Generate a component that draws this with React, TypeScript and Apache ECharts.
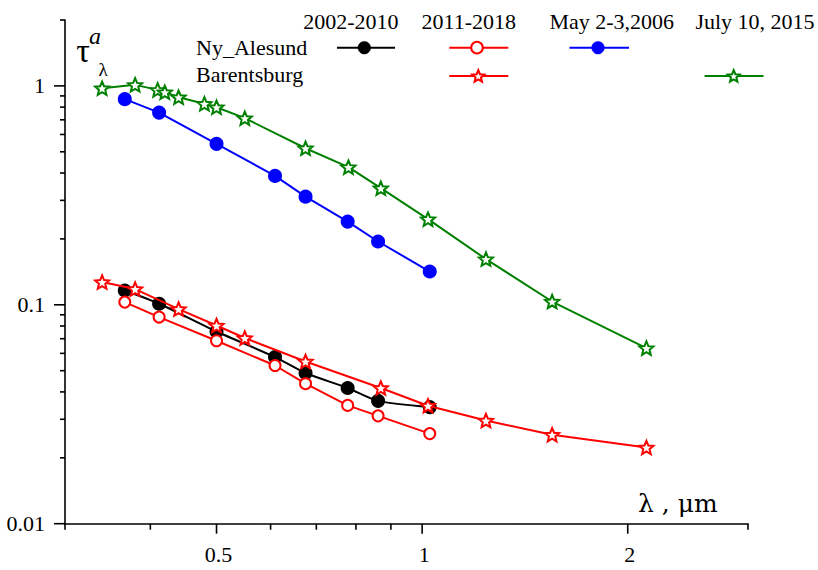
import React, { useEffect, useRef } from "react";
import * as echarts from "echarts";

const FONT = "'Liberation Serif', 'Times New Roman', serif";
const FONT_UNIT = "'DejaVu Serif', serif";

// Axis ranges
const X_MIN = 0.3;
const X_MAX = 3;
const Y_MIN = 0.01;
const Y_MAX = 2;

// Tick marks (drawn through the axes' own log scales)
const xTickValues = [0.3, 0.4, 0.5, 0.6, 0.7, 0.8, 0.9, 1, 2, 3];
const xTickLabels = ["", "", "0.5", "", "", "", "", "1", "2", ""];
const yTickValues = [
  0.01, 0.02, 0.03, 0.04, 0.05, 0.06, 0.07, 0.08, 0.09,
  0.1, 0.2, 0.3, 0.4, 0.5, 0.6, 0.7, 0.8, 0.9,
  1, 2,
];
const yTickLabels = [
  "0.01", "", "", "", "", "", "", "", "",
  "0.1", "", "", "", "", "", "", "", "",
  "1", "",
];

// Ny_Alesund wavelengths (um)
const nyWavelengths = [0.367, 0.412, 0.5, 0.609, 0.675, 0.778, 0.862, 1.026];
const ny2002_2010 = [0.1162, 0.1011, 0.0755, 0.0577, 0.0488, 0.0417, 0.0364, 0.0341];
const ny2011_2018 = [0.1029, 0.0879, 0.0685, 0.0528, 0.0436, 0.0347, 0.0311, 0.0258];
const nyMay2006 = [0.87, 0.755, 0.5435, 0.388, 0.312, 0.24, 0.1946, 0.1419];

// Barentsburg
const barWavelengths = [0.34, 0.38, 0.44, 0.5, 0.55, 0.675, 0.87, 1.02, 1.24, 1.55, 2.13];
const bar2011_2018 = [0.127, 0.118, 0.0956, 0.0804, 0.0705, 0.0551, 0.0417, 0.0346, 0.0296, 0.0255, 0.0223];
const barJulyWavelengths = [0.34, 0.38, 0.41, 0.42, 0.44, 0.48, 0.5, 0.55, 0.675, 0.78, 0.87, 1.02, 1.24, 1.55, 2.13];
const barJuly2015 = [0.976, 1.011, 0.959, 0.936, 0.888, 0.828, 0.799, 0.712, 0.519, 0.4254, 0.341, 0.2462, 0.1617, 0.1035, 0.0634];

// Legend table
const legendColumns = ["2002-2010", "2011-2018", "May 2-3,2006", "July 10, 2015"];
const legendRows = ["Ny_Alesund", "Barentsburg"];

const BLACK = "#000000";
const RED = "#ff0000";
const BLUE = "#0000ff";
const GREEN = "#008000";

function starPoints(cx: number, cy: number, R: number, ratio = 0.45): number[][] {
  const pts: number[][] = [];
  for (let k = 0; k < 10; k++) {
    const ang = (-90 + k * 36) * (Math.PI / 180);
    const r = k % 2 === 0 ? R : R * ratio;
    pts.push([cx + r * Math.cos(ang), cy + r * Math.sin(ang)]);
  }
  return pts;
}

const STAR_PATH =
  "path://" +
  starPoints(10, 10, 10)
    .map((p, i) => (i === 0 ? "M" : "L") + p[0].toFixed(3) + " " + p[1].toFixed(3))
    .join(" ") +
  " Z";

function zip(xs: number[], ys: number[]) {
  return xs.map((x, i) => [x, ys[i]]);
}

function lineSeries(
  name: string,
  xs: number[],
  ys: number[],
  color: string,
  symbol: string,
  fill: string,
  size: number,
  z: number,
  smooth: number | boolean = false
) {
  return {
    type: "line",
    name,
    data: zip(xs, ys),
    symbol,
    symbolSize: size,
    symbolKeepAspect: true,
    showSymbol: true,
    showAllSymbol: true,
    smooth,
    z,
    lineStyle: { color, width: 2 },
    itemStyle: { color: fill, borderColor: color, borderWidth: 2 },
    emphasis: { disabled: true },
    silent: true,
  };
}

function textStyle(text: string, size: number, align: string, italic = false, fam = FONT) {
  return {
    text,
    fill: "#000",
    font: `${italic ? "italic " : ""}${size}px ${fam}`,
    align,
    textAlign: align,
    verticalAlign: "middle",
    textVerticalAlign: "middle",
  };
}

function txt(x: number, y: number, text: string, size: number, align = "left", italic = false, fam = FONT) {
  return { type: "text", x, y, silent: true, style: textStyle(text, size, align, italic, fam) };
}

export default function App() {
  const ref = useRef<HTMLDivElement>(null);

  useEffect(() => {
    if (!ref.current) return;
    const chart = echarts.init(ref.current, undefined, { renderer: "svg" });

    const xTickSeries = {
      type: "custom",
      coordinateSystem: "cartesian2d",
      clip: false,
      silent: true,
      z: 20,
      data: xTickValues.map((v) => [v, Y_MIN]),
      renderItem: (params: any, api: any) => {
        const i = params.dataIndex;
        const p = api.coord([api.value(0), api.value(1)]);
        const label = xTickLabels[i];
        const major = label !== "";
        const children: any[] = [
          {
            type: "line",
            shape: { x1: p[0], y1: p[1], x2: p[0], y2: p[1] + (major ? 10 : 6) },
            style: { stroke: "#000", lineWidth: 1.6 },
          },
        ];
        if (major) {
          children.push({ type: "text", x: p[0] + 2, y: p[1] + 31, style: textStyle(label, 22, "center") });
        }
        return { type: "group", children };
      },
    };

    const yTickSeries = {
      type: "custom",
      coordinateSystem: "cartesian2d",
      clip: false,
      silent: true,
      z: 20,
      data: yTickValues.map((v) => [X_MIN, v]),
      renderItem: (params: any, api: any) => {
        const i = params.dataIndex;
        const p = api.coord([api.value(0), api.value(1)]);
        const label = yTickLabels[i];
        const major = label !== "";
        const children: any[] = [
          {
            type: "line",
            shape: { x1: p[0], y1: p[1], x2: p[0] - (major ? 11 : 5), y2: p[1] },
            style: { stroke: "#000", lineWidth: 1.6 },
          },
        ];
        if (major) {
          children.push({ type: "text", x: p[0] - 20, y: p[1], style: textStyle(label, 22, "right") });
        }
        return { type: "group", children };
      },
    };

    // Legend sample geometry
    const rowY = [47.7, 76];
    const legendGraphics: any[] = [
      txt(350.8, 21, legendColumns[0], 22, "center"),
      txt(468.7, 21, legendColumns[1], 22, "center"),
      txt(611.8, 21, legendColumns[2], 22, "center"),
      txt(755, 21, legendColumns[3], 22, "center"),
      txt(196, 47, legendRows[0], 22, "left"),
      txt(196, 74.5, legendRows[1], 22, "left"),
      // Ny_Alesund 2002-2010
      { type: "line", shape: { x1: 337, y1: rowY[0], x2: 395, y2: rowY[0] }, style: { stroke: BLACK, lineWidth: 2 } },
      { type: "circle", shape: { cx: 364.3, cy: rowY[0], r: 6.3 }, style: { fill: BLACK, stroke: BLACK, lineWidth: 0.5 } },
      // Ny_Alesund 2011-2018
      { type: "line", shape: { x1: 449.3, y1: rowY[0], x2: 508.3, y2: rowY[0] }, style: { stroke: RED, lineWidth: 2 } },
      { type: "circle", shape: { cx: 477, cy: rowY[0], r: 5.8 }, style: { fill: "#fff", stroke: RED, lineWidth: 2 } },
      // Ny_Alesund May 2006
      { type: "line", shape: { x1: 569.5, y1: rowY[0], x2: 629, y2: rowY[0] }, style: { stroke: BLUE, lineWidth: 2 } },
      { type: "circle", shape: { cx: 598, cy: rowY[0], r: 6.3 }, style: { fill: BLUE, stroke: BLUE, lineWidth: 0.5 } },
      // Barentsburg 2011-2018
      { type: "line", shape: { x1: 449.3, y1: rowY[1], x2: 508.3, y2: rowY[1] }, style: { stroke: RED, lineWidth: 2 } },
      { type: "polygon", shape: { points: starPoints(478.3, rowY[1] + 0.5, 6.3) }, style: { fill: "#fff", stroke: RED, lineWidth: 2 } },
      // Barentsburg July 2015
      { type: "line", shape: { x1: 704.6, y1: rowY[1], x2: 763.5, y2: rowY[1] }, style: { stroke: GREEN, lineWidth: 2 } },
      { type: "polygon", shape: { points: starPoints(733.7, rowY[1] + 0.5, 6.3) }, style: { fill: "#fff", stroke: GREEN, lineWidth: 2 } },
      // axis titles
      txt(83, 50, "τ", 34, "center"),
      txt(95, 36, "a", 24, "center", true),
      txt(103, 69, "λ", 19, "center"),
      txt(638, 503, "λ , μm", 25, "left", false, FONT_UNIT),
    ];

    chart.setOption({
      animation: false,
      backgroundColor: "#ffffff",
      grid: { left: 65, right: 70, top: 20, bottom: 46.3, containLabel: false, outerBoundsMode: "none" },
      xAxis: {
        type: "log",
        logBase: 10,
        min: X_MIN,
        max: X_MAX,
        axisLine: { show: true, onZero: false, lineStyle: { color: "#000", width: 1.6 } },
        axisTick: { show: false },
        axisLabel: { show: false },
        splitLine: { show: false },
        minorTick: { show: false },
      },
      yAxis: {
        type: "log",
        logBase: 10,
        min: Y_MIN,
        max: Y_MAX,
        axisLine: { show: true, onZero: false, lineStyle: { color: "#000", width: 1.6 } },
        axisTick: { show: false },
        axisLabel: { show: false },
        splitLine: { show: false },
        minorTick: { show: false },
      },
      series: [
        lineSeries("Ny_Alesund 2002-2010", nyWavelengths, ny2002_2010, BLACK, "circle", BLACK, 12, 3, 0.25),
        lineSeries("Ny_Alesund 2011-2018", nyWavelengths, ny2011_2018, RED, "circle", "#ffffff", 11, 4),
        lineSeries("Ny_Alesund May 2-3,2006", nyWavelengths, nyMay2006, BLUE, "circle", BLUE, 12, 4),
        lineSeries("Barentsburg 2011-2018", barWavelengths, bar2011_2018, RED, STAR_PATH, "#ffffff", 14, 5),
        lineSeries("Barentsburg July 10, 2015", barJulyWavelengths, barJuly2015, GREEN, STAR_PATH, "#ffffff", 14, 5),
        xTickSeries,
        yTickSeries,
      ],
      graphic: { elements: legendGraphics },
    });

    return () => chart.dispose();
  }, []);

  return (
    <div
      ref={ref}
      style={{ position: "absolute", left: 0, top: 0, width: 818, height: 570, background: "#fff" }}
    />
  );
}
